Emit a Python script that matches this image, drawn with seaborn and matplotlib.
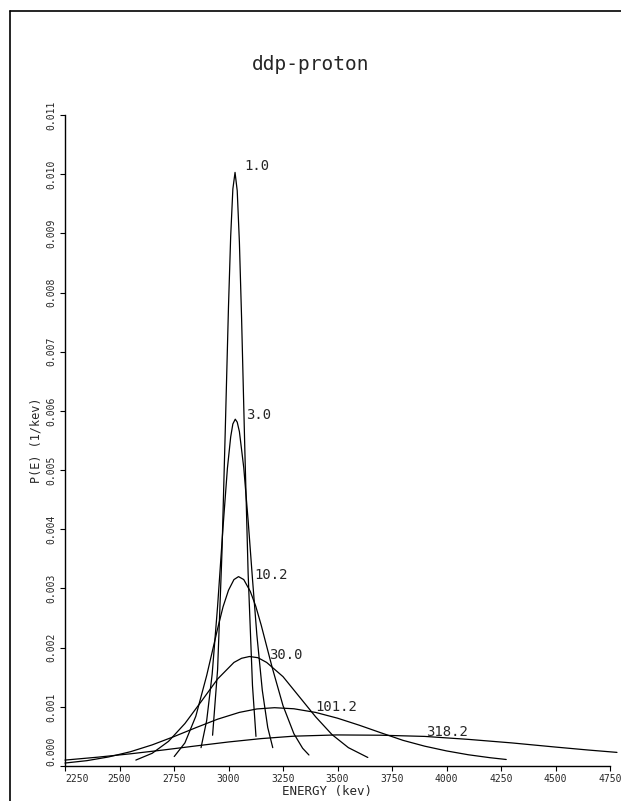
import matplotlib
matplotlib.use("Agg")
import numpy as np
import pandas as pd
import matplotlib.pyplot as plt
from matplotlib.lines import Line2D
from matplotlib.ticker import FormatStrFormatter
import seaborn as sns

# curve labels as printed next to each peak
labels = ["1.0", "3.0", "10.2", "30.0", "101.2", "318.2"]

# energy [keV] and P(E) [1e-3 / keV]
e_1 = [2927, 2950, 2970, 2985, 3000, 3010, 3020, 3030, 3040, 3050, 3060, 3075, 3090, 3110, 3126]
p_1 = [0.52, 1.63, 3.61, 5.65, 7.77, 8.95, 9.75, 10.03, 9.72, 8.85, 7.57, 5.33, 3.26, 1.36, 0.50]

e_3 = [2874, 2900, 2925, 2950, 2975, 2995, 3010, 3020, 3031, 3040, 3050, 3070, 3090, 3110, 3130, 3155, 3180, 3203]
p_3 = [0.31, 0.77, 1.55, 2.70, 4.04, 5.03, 5.56, 5.78, 5.86, 5.81, 5.65, 5.04, 4.15, 3.16, 2.22, 1.28, 0.65, 0.31]

e_10 = [2751, 2800, 2850, 2900, 2950, 2975, 3000, 3025, 3046, 3070, 3100, 3125, 3150, 3200, 3250, 3300, 3340, 3369]
p_10 = [0.16, 0.39, 0.84, 1.53, 2.32, 2.69, 2.97, 3.15, 3.20, 3.15, 2.95, 2.70, 2.38, 1.67, 1.02, 0.545, 0.30, 0.186]

e_30 = [2575, 2650, 2725, 2800, 2875, 2950, 3025, 3060, 3096, 3135, 3175, 3250, 3325, 3400, 3475, 3550, 3639]
p_30 = [0.10, 0.215, 0.417, 0.717, 1.09, 1.47, 1.75, 1.82, 1.85, 1.83, 1.75, 1.51, 1.17, 0.83, 0.53, 0.31, 0.144]

e_101 = [2250, 2350, 2450, 2550, 2650, 2750, 2850, 2950, 3050, 3130, 3211, 3300, 3400, 3500,
         3600, 3700, 3800, 3900, 4000, 4100, 4200, 4274]
p_101 = [0.05, 0.09, 0.153, 0.241, 0.357, 0.497, 0.647, 0.791, 0.906, 0.964, 0.985, 0.967, 0.905, 0.808,
         0.689, 0.56, 0.434, 0.335, 0.255, 0.19, 0.14, 0.11]

e_318 = [2250, 2400, 2550, 2700, 2850, 3000, 3150, 3300, 3495, 3700, 3900, 4100, 4300, 4500, 4650, 4782]
p_318 = [0.10, 0.149, 0.206, 0.27, 0.339, 0.406, 0.463, 0.504, 0.525, 0.52, 0.50, 0.45, 0.39, 0.32, 0.27, 0.23]

x_ticks = [2250, 2500, 2750, 3000, 3250, 3500, 3750, 4000, 4250, 4500, 4750]
y_ticks = [0.000, 0.001, 0.002, 0.003, 0.004, 0.005, 0.006, 0.007, 0.008, 0.009, 0.010, 0.011]

energies = [e_1, e_3, e_10, e_30, e_101, e_318]
probs = [p_1, p_3, p_10, p_30, p_101, p_318]

frames = []
for lab, e, p in zip(labels, energies, probs):
    frames.append(pd.DataFrame({"energy": e, "p": np.array(p) / 1000.0, "curve": lab}))
df = pd.concat(frames, ignore_index=True)

sns.set_style("ticks")
plt.rcParams["font.family"] = ["DejaVu Sans Mono", "DejaVu Sans"]

fig = plt.figure(figsize=(6.21, 8.01), dpi=100)
ax = fig.add_axes([65 / 621, 1 - 766 / 801, 545 / 621, 651 / 801])

sns.lineplot(data=df, x="energy", y="p", units="curve", estimator=None, color="black",
             lw=0.9, sort=False, legend=False, clip_on=False, ax=ax)

ax.set_xlim(2250, 4750)
ax.set_ylim(0, 0.011)
ax.set_xticks(x_ticks)
ax.set_yticks(y_ticks)
ax.yaxis.set_major_formatter(FormatStrFormatter("%.3f"))
ax.tick_params(axis="both", labelsize=7, direction="out", length=3.5, width=0.8, color="black", pad=2)
ax.tick_params(axis="y", labelrotation=90, pad=3)
for t in ax.get_yticklabels():
    t.set_va("center")
ax.yaxis.get_major_ticks()[0].label1.set_va("bottom")
ax.xaxis.get_major_ticks()[0].label1.set_ha("left")

sns.despine(ax=ax)
for side in ["left", "bottom"]:
    ax.spines[side].set_color("black")
    ax.spines[side].set_linewidth(1.0)

# curve labels
label_x = [3073, 3080, 3119, 3184, 3398, 3908]
label_y = [0.01014, 0.00593, 0.00323, 0.001876, 0.00100, 0.00058]
for lab, x, y in zip(labels, label_x, label_y):
    ax.text(x, y, lab, fontsize=10, ha="left", va="center")

ax.set_xlabel("ENERGY (kev)", fontsize=9)
ax.xaxis.set_label_coords(0.48, -0.029)
ax.set_ylabel("P(E) (1/kev)", fontsize=8.5)
ax.yaxis.set_label_coords(-0.042, 0.5)

fig.text(311 / 621, 1 - 65 / 801, "ddp-proton", ha="center", va="center", fontsize=14)

# page frame, left and top edges
fig.add_artist(Line2D([10 / 621, 10 / 621], [0, 1 - 11 / 801], transform=fig.transFigure, color="black", lw=1.2))
fig.add_artist(Line2D([10 / 621, 1], [1 - 11 / 801, 1 - 11 / 801], transform=fig.transFigure, color="black", lw=1.2))

fig.savefig("out.png", dpi=100)
